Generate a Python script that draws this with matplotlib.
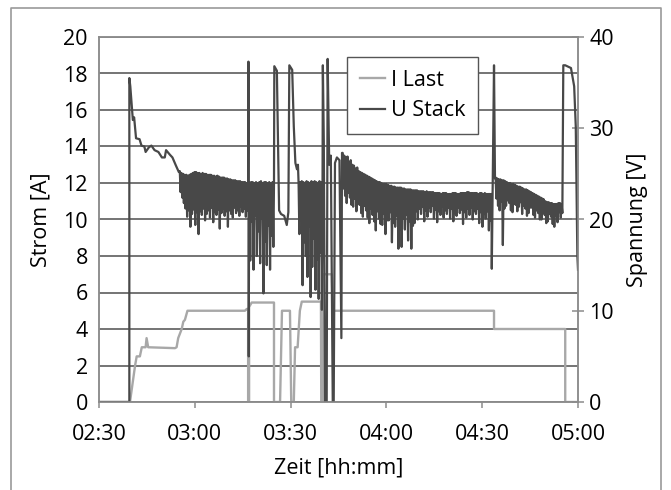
import numpy as np
import matplotlib
matplotlib.use("Agg")
import matplotlib.pyplot as plt
from matplotlib.lines import Line2D

plt.rcParams["font.family"] = ["Open Sans", "DejaVu Sans"]

# time in minutes after 02:30
x_ticks = [0, 30, 60, 90, 120, 150]
x_labels = ["02:30", "03:00", "03:30", "04:00", "04:30", "05:00"]

# I Last [A]
i_t = [0, 9.7, 10.5, 11.3, 11.8, 12.8, 13.4, 14.6, 14.9, 15.4, 23.8, 24.3, 24.8, 25.9, 26.4, 26.9, 27.7,
       45.7, 46.3, 46.7, 46.7, 47.0, 47.0, 47.8, 54.8, 54.8, 56.7, 57.3, 59.8, 60.2, 61.0, 61.4, 62.2,
       62.9, 63.5, 69.5, 69.6, 70.2, 70.3, 72.9, 73.2, 123.7, 123.7, 146.0, 146.0, 150.0]
i_a = [0, 0, 1.0, 2.0, 2.5, 2.5, 3.0, 3.0, 3.5, 3.0, 2.95, 3.0, 3.5, 4.0, 4.4, 4.5, 5.0,
       5.0, 5.1, 5.1, 0, 0, 5.2, 5.45, 5.45, 0, 0, 5.0, 5.0, 0, 0, 3.0, 3.0,
       5.0, 5.5, 5.5, 0, 0, 7.0, 7.0, 5.0, 5.0, 4.0, 4.0, 0, 0]

# U Stack [V] - single trace pieces
u_t0 = [0, 9.5, 9.5, 9.8, 10.2, 10.6, 11.0, 11.6, 12.7, 13.3, 14.2, 14.6, 15.6, 16.4, 17.4, 18.6,
        19.7, 20.6, 21.0, 22.2, 23.0, 24.1, 25.0]
u_v0 = [0, 0, 35.5, 34.6, 32.7, 30.9, 31.2, 28.9, 28.8, 28.1, 28.0, 27.4, 27.9, 28.1, 27.6, 27.4,
        26.8, 26.8, 27.6, 27.1, 26.8, 25.9, 25.2]
u_t1 = [46.7, 46.8, 46.9, 47.0]
u_v1 = [24.0, 37.3, 5.0, 24.0]
u_t2 = [54.8, 54.9, 55.7, 56.4, 57.0, 58.0, 58.8, 59.3, 59.6, 60.5, 61.0, 61.5, 62.0, 62.3]
u_v2 = [24.0, 36.8, 36.3, 21.0, 20.6, 20.4, 19.4, 20.8, 36.9, 36.4, 30.2, 26.2, 25.5, 26.0]
u_t3 = [70.0, 70.1, 70.4, 70.8, 71.3, 71.6, 72.1, 72.6, 73.2, 73.5, 73.9, 74.5, 75.3, 75.9, 76.1]
u_v3 = [24.0, 36.9, 28.5, 0, 0, 37.6, 26.0, 27.0, 0, 0, 26.2, 26.8, 26.5, 7.0, 27.3]
u_t4 = [122.9, 123.0, 123.3, 123.7, 124.0]
u_v4 = [22.8, 14.6, 24.0, 36.9, 24.5]
u_t5 = [145.4, 146.0, 147.8, 148.8, 149.3, 149.8, 150.0]
u_v5 = [36.9, 36.9, 36.6, 34.6, 30.2, 16.0, 14.5]

# U Stack noisy bands: upper / lower swing values (one pair every ~0.5 min)
hi1 = [25.3, 25.1, 25.0, 24.9, 24.9, 24.8, 24.9, 25.0, 25.1, 25.2, 25.2, 25.1, 25.1, 25.0, 25.1,
       25.0, 25.0, 24.9, 24.9, 24.9, 24.8, 24.8, 24.7, 24.8, 24.7, 24.6, 24.6, 24.6, 24.5, 24.5,
       24.4, 24.4, 24.3, 24.3, 24.3, 24.2, 24.2, 24.2, 24.1, 24.1, 24.1, 24.0]
lo1 = [23.0, 22.4, 21.8, 21.2, 20.3, 21.0, 19.2, 20.6, 21.1, 19.4, 20.8, 18.4, 20.9, 20.5, 21.2,
       19.9, 20.6, 21.0, 20.2, 21.3, 19.7, 20.8, 20.5, 21.1, 19.0, 20.7, 21.2, 20.4, 20.9, 19.2,
       21.0, 20.6, 20.2, 21.3, 20.7, 21.0, 20.4, 21.4, 20.8, 21.2, 20.3, 21.0]
hi2 = [24.0, 24.1, 24.1, 24.0, 24.1, 24.0, 24.1, 24.2, 24.0, 24.1, 24.1, 24.0, 24.1, 24.0, 24.1]
lo2 = [15.5, 19.8, 14.5, 20.4, 16.0, 18.7, 15.2, 20.1, 11.9, 17.6, 15.0, 19.3, 14.5, 18.2, 17.0]
hi3 = [24.0, 24.1, 24.2, 24.1, 24.0, 24.2, 24.1, 24.0, 24.2, 24.1, 24.2, 24.1, 24.0, 24.2, 24.1]
lo3 = [18.4, 21.0, 12.8, 17.5, 16.0, 13.7, 19.2, 11.5, 14.8, 17.9, 12.3, 15.6, 11.3, 16.4, 10.1]
hi4 = [27.3, 27.0, 26.8, 26.9, 26.3, 26.5, 26.0, 25.9, 25.6, 25.7, 25.3, 25.2, 25.1, 25.0, 24.9,
       24.8, 24.7, 24.6, 24.5, 24.4, 24.3, 24.2, 24.1, 24.1, 24.0, 23.9, 23.9, 23.9, 23.8, 23.7,
       23.7, 23.6, 23.6, 23.5, 23.5, 23.5, 23.5, 23.4, 23.4, 23.3, 23.3, 23.3, 23.3, 23.2, 23.2,
       23.2, 23.2, 23.1, 23.1, 23.1, 23.1, 23.0, 23.1, 23.0, 23.0, 23.0, 23.0, 22.9, 22.9, 22.9,
       22.9, 22.8, 22.9, 22.9, 22.9, 22.8, 22.8, 22.8, 22.9, 22.9, 22.9, 22.8, 22.8, 22.9, 22.9,
       22.9, 22.9, 23.0, 23.0, 22.9, 22.9, 22.9, 22.9, 22.9, 22.8, 22.9, 22.9, 22.8, 22.9, 22.8,
       22.8, 22.8]
lo4 = [23.4, 22.6, 21.8, 22.9, 22.4, 21.6, 21.4, 22.3, 20.9, 21.8, 21.6, 20.7, 20.3, 21.5, 21.0,
       20.2, 19.6, 21.2, 20.5, 19.8, 18.8, 20.9, 20.1, 19.5, 19.4, 20.6, 18.4, 19.9, 19.9, 20.8,
       17.5, 19.6, 19.2, 20.4, 16.8, 18.9, 17.0, 20.1, 18.9, 20.5, 17.7, 19.8, 16.8, 19.3, 19.6,
       20.9, 20.0, 21.2, 20.6, 21.4, 19.8, 21.0, 20.3, 21.3, 20.8, 21.5, 20.1, 21.1, 19.7, 20.9,
       20.5, 21.4, 20.2, 21.0, 20.6, 21.3, 20.1, 21.2, 19.8, 20.7, 20.4, 21.3, 20.7, 21.1, 19.5,
       20.8, 20.2, 21.2, 20.5, 21.3, 20.0, 20.9, 20.6, 21.2, 19.6, 20.8, 19.2, 20.6, 20.1, 20.9,
       18.8, 19.9]
hi5 = [24.6, 24.5, 24.4, 24.4, 24.3, 24.3, 24.2, 24.1, 24.0, 24.0, 23.9, 23.9, 23.8, 23.7, 23.6,
       23.6, 23.5, 23.4, 23.3, 23.3, 23.2, 23.1, 23.0, 22.9, 22.8, 22.7, 22.6, 22.5, 22.4, 22.3,
       22.2, 22.0, 21.9, 21.9, 21.8, 21.8, 21.7, 21.7, 21.7, 21.8, 21.8, 21.7]
lo5 = [22.3, 21.5, 21.0, 22.0, 17.2, 21.2, 21.5, 22.1, 21.8, 21.0, 20.8, 21.7, 21.6, 20.9, 21.4,
       21.9, 20.6, 21.5, 21.2, 20.4, 20.7, 21.3, 21.3, 20.5, 20.2, 21.0, 20.7, 20.0, 20.0, 20.8,
       20.5, 19.6, 19.8, 20.6, 20.3, 19.5, 19.2, 20.4, 19.7, 20.8, 20.2, 20.7]
bands = [(25.3, 46.5, hi1, lo1), (47.1, 54.6, hi2, lo2), (62.5, 69.8, hi3, lo3),
         (76.3, 122.6, hi4, lo4), (124.2, 145.1, hi5, lo5)]


def band(t0, t1, hi, lo):
    t = np.linspace(t0, t1, 2 * len(hi))
    v = np.column_stack([hi, lo]).ravel()
    return t, v


pieces = [(u_t0, u_v0), band(*bands[0]), (u_t1, u_v1), band(*bands[1]), (u_t2, u_v2),
          band(*bands[2]), (u_t3, u_v3), band(*bands[3]), (u_t4, u_v4), band(*bands[4]),
          (u_t5, u_v5)]
u_t = np.concatenate([np.asarray(p[0], float) for p in pieces])
u_v = np.concatenate([np.asarray(p[1], float) for p in pieces])

fs = 15.5
fig = plt.figure(figsize=(6.71, 4.90), dpi=100)
ax = fig.add_axes([99 / 671, 88 / 490, 479 / 671, 365 / 490])
ax2 = ax.twinx()

spine_c = "#8c8c8c"
grid_c = "#5c5c5c"

ax.set_xlim(0, 150)
ax.set_ylim(0, 20)
ax.set_yticks(range(0, 21, 2))
ax.set_xticks(x_ticks)
ax.set_xticklabels(x_labels)
ax.grid(axis="y", color=grid_c, linewidth=1.2)
ax.set_axisbelow(True)
ax.tick_params(axis="y", length=0, pad=8, labelsize=fs)
ax.tick_params(axis="x", direction="out", length=4.5, width=1.1, color=spine_c, pad=11, labelsize=fs)

l_last, = ax.plot(i_t, i_a, color="#a8a8a8", linewidth=1.7, label="I Last")

ax2.set_ylim(0, 40)
ax2.set_yticks(range(0, 41, 10))
ax2.tick_params(axis="y", direction="inout", length=8, width=1.1, color=spine_c, pad=4, labelsize=fs)
l_stack, = ax2.plot(u_t, u_v, color="#484848", linewidth=1.6, label="U Stack")

for a in (ax, ax2):
    for s in a.spines.values():
        s.set_color(spine_c)
        s.set_linewidth(1.1)

ax.set_ylabel("Strom [A]", fontsize=fs)
ax.yaxis.set_label_coords(-0.100, 0.5)
ax2.set_ylabel("Spannung [V]", fontsize=fs, rotation=90)
ax2.yaxis.set_label_coords(1.102, 0.5)
ax.set_xlabel("Zeit [hh:mm]", fontsize=fs)
ax.xaxis.set_label_coords(0.5, -0.153)

leg = ax2.legend(handles=[l_last, l_stack], loc="upper left", bbox_to_anchor=(0.517, 0.946),
                 borderaxespad=0, fontsize=fs, frameon=True, fancybox=False, framealpha=1,
                 edgecolor="#555555", handlelength=1.2, handletextpad=0.25, labelspacing=0.45,
                 borderpad=0.6)
leg.get_frame().set_linewidth(1.0)

# outer frame of the picture
fig.add_artist(Line2D([10.5 / 671, 10.5 / 671, 661 / 671, 661 / 671], [0, 481.5 / 490, 481.5 / 490, 0],
                      transform=fig.transFigure, color="#9a9a9a", linewidth=1.2))

fig.savefig("out.png", dpi=100)
